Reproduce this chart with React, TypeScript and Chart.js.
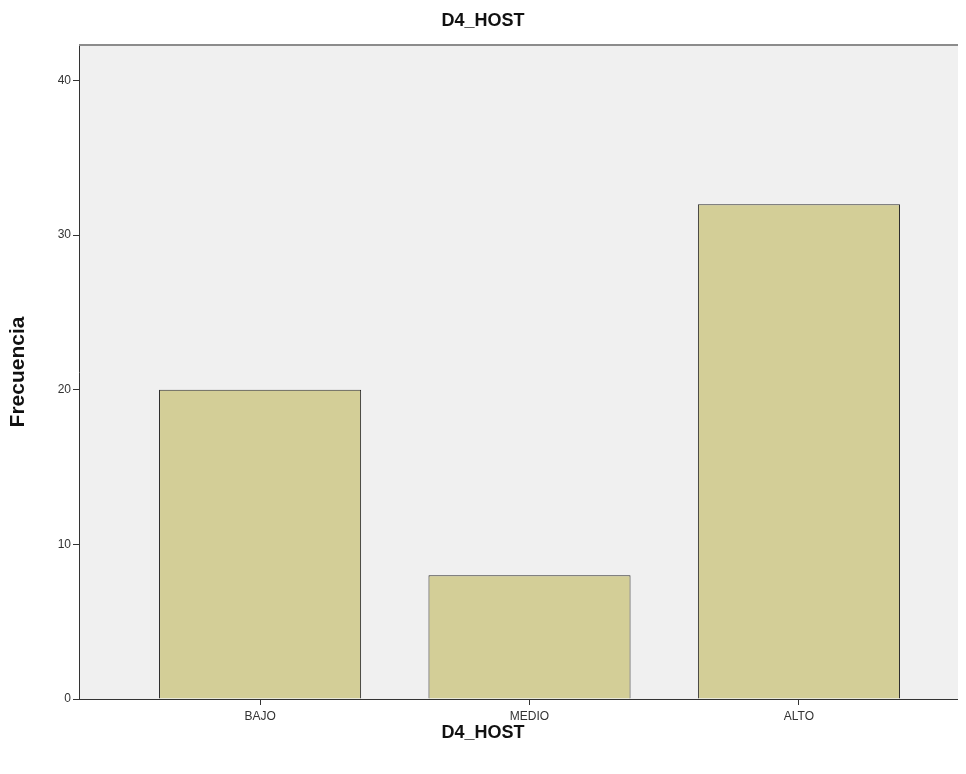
import React, { useEffect, useRef } from 'react';
import { Chart, registerables } from 'chart.js';

Chart.register(...registerables);

const chartTitle = 'D4_HOST';
const xAxisTitle = 'D4_HOST';
const yAxisTitle = 'Frecuencia';
const categories = ['BAJO', 'MEDIO', 'ALTO'];
const categoryPositions = [1, 2, 3];
const frequencies = [20, 8, 32];
const yTicks = [0, 10, 20, 30, 40];

const FONT = "'Liberation Sans', Arial, sans-serif";

const plotBackground = {
  id: 'plotBackground',
  beforeDraw(chart: any) {
    const { ctx, chartArea } = chart;
    ctx.save();
    ctx.fillStyle = '#f0f0f0';
    ctx.fillRect(chartArea.left, chartArea.top, chartArea.right - chartArea.left, chartArea.bottom - chartArea.top);
    ctx.restore();
  },
  afterDraw(chart: any) {
    const { ctx, chartArea } = chart;
    ctx.save();
    ctx.strokeStyle = '#8c8c8c';
    ctx.lineWidth = 2;
    ctx.beginPath();
    ctx.moveTo(chartArea.left, chartArea.top);
    ctx.lineTo(chartArea.right, chartArea.top);
    ctx.stroke();
    ctx.restore();
  },
};

export default function App() {
  const ref = useRef<HTMLCanvasElement | null>(null);

  useEffect(() => {
    if (!ref.current) return;
    const chart = new Chart(ref.current, {
      type: 'bar',
      data: {
        datasets: [
          {
            label: yAxisTitle,
            data: categoryPositions.map((x, i) => ({ x, y: frequencies[i] })),
            backgroundColor: '#d3ce97',
            borderColor: '#2b2b2b',
            borderWidth: 1,
            categoryPercentage: 1,
            barPercentage: 0.75,
          },
        ],
      },
      options: {
        animation: false,
        responsive: false,
        maintainAspectRatio: false,
        layout: { padding: { left: 0, right: 0, top: 0, bottom: 0 } },
        plugins: {
          legend: { display: false },
          tooltip: { enabled: false },
          title: {
            display: true,
            text: chartTitle,
            color: '#111',
            font: { family: FONT, size: 18, weight: 'bold' },
            padding: { top: 10, bottom: 13.4 },
          },
          subtitle: {
            display: true,
            position: 'bottom',
            text: xAxisTitle,
            color: '#111',
            font: { family: FONT, size: 18, weight: 'bold' },
            padding: { top: 0, bottom: 30 },
          },
        },
        scales: {
          x: {
            type: 'linear',
            min: 0.328,
            max: 3.62,
            offset: false,
            afterBuildTicks: (scale: any) => {
              scale.ticks = categoryPositions.map((v) => ({ value: v }));
            },
            afterFit: (scale: any) => {
              scale.height = 23.4;
              scale.paddingLeft = 0;
              scale.paddingRight = 0;
            },
            ticks: {
              color: '#333',
              font: { family: FONT, size: 12 },
              padding: 4,
              maxRotation: 0,
              autoSkip: false,
              callback: (v: any) => {
                const i = categoryPositions.indexOf(Number(v));
                return i >= 0 ? categories[i] : '';
              },
            },
            grid: { offset: false, drawOnChartArea: false, drawTicks: true, tickLength: 6, color: '#333' },
            border: { display: true, color: '#333', width: 1 },
          },
          y: {
            min: 0,
            max: 42.3,
            afterBuildTicks: (scale: any) => {
              scale.ticks = yTicks.map((v) => ({ value: v }));
            },
            afterFit: (scale: any) => {
              scale.width = 79;
              scale.paddingTop = 0;
              scale.paddingBottom = 0;
            },
            ticks: {
              color: '#333',
              font: { family: FONT, size: 12 },
              padding: 2,
            },
            grid: { drawOnChartArea: false, drawTicks: true, tickLength: 6, color: '#333' },
            border: { display: true, color: '#333', width: 1 },
            title: {
              display: true,
              text: yAxisTitle,
              color: '#111',
              font: { family: FONT, size: 21, weight: 'bold' },
              padding: { top: 6, bottom: 0 },
            },
          },
        },
      },
      plugins: [plotBackground],
    } as any);
    return () => chart.destroy();
  }, []);

  return (
    <div style={{ margin: -8, width: 966, height: 774, background: '#fff' }}>
      <canvas ref={ref} width={966} height={774} style={{ display: 'block', width: 966, height: 774 }} />
    </div>
  );
}
